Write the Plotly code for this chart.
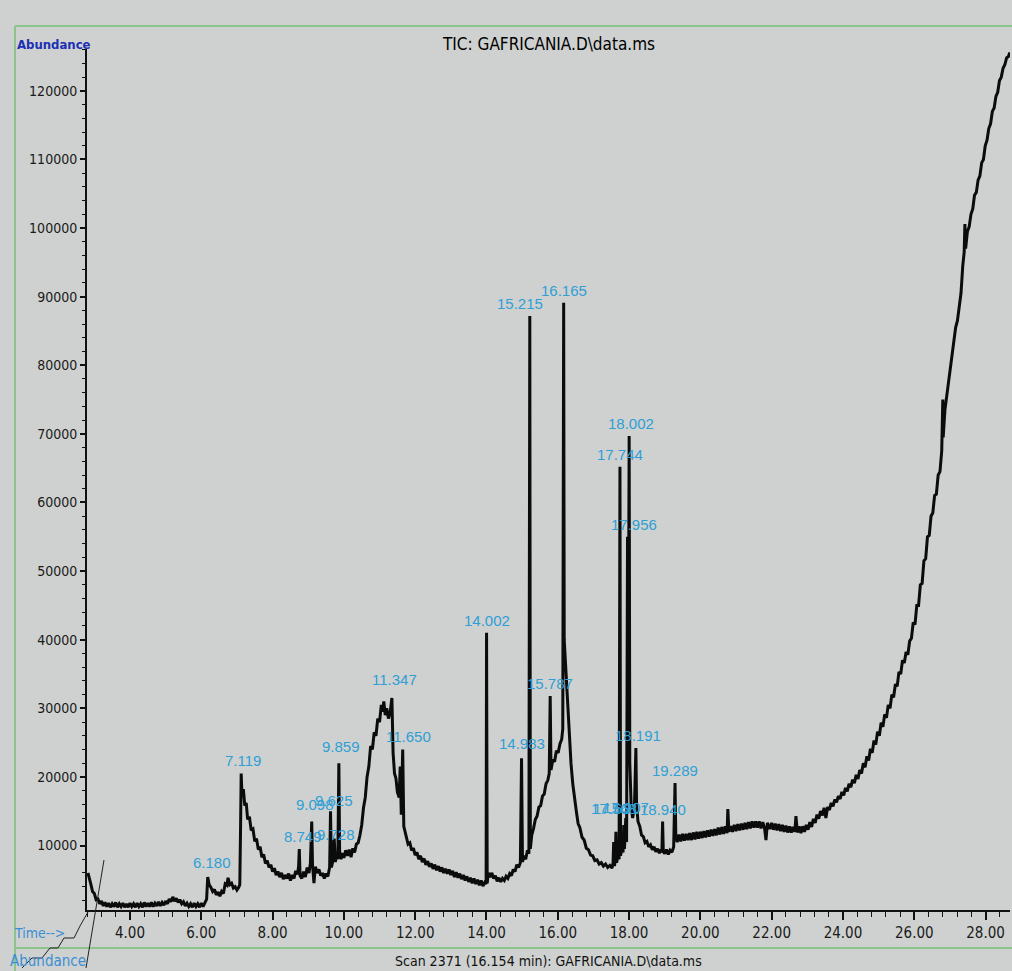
import plotly.graph_objects as go

# ---- chromatogram trace: (retention time [min], abundance) ----
early_baseline = [
    (2.82, 6000), (2.86, 5000), (2.90, 4400), (2.95, 3300), (3.00, 3000), (3.05, 2100), (3.10, 2200),
    (3.15, 1500), (3.20, 1900), (3.25, 1200), (3.30, 1700), (3.35, 1100), (3.40, 1600), (3.45, 1000),
    (3.50, 1500), (3.55, 1100), (3.60, 1700), (3.65, 1000), (3.70, 1500), (3.75, 1100), (3.80, 1600),
    (3.85, 1000), (3.90, 1500), (3.95, 1000), (4.00, 1600), (4.05, 1100), (4.10, 1500), (4.15, 1000),
    (4.20, 1600), (4.25, 1100), (4.30, 1500), (4.35, 1000), (4.40, 1700), (4.45, 1100), (4.50, 1600),
    (4.55, 1100), (4.60, 1700), (4.65, 1100), (4.70, 1600), (4.75, 1200), (4.80, 1800), (4.85, 1200),
    (4.90, 1700), (4.95, 1300), (5.00, 1900), (5.05, 1500), (5.10, 2200), (5.15, 1800), (5.20, 2500),
    (5.25, 1900), (5.30, 2300), (5.35, 1700), (5.40, 2100), (5.45, 1500), (5.50, 1800), (5.55, 1200),
    (5.60, 1600), (5.65, 1100), (5.70, 1500), (5.75, 1000), (5.80, 1600), (5.85, 1100), (5.90, 1500),
    (5.95, 1000), (6.00, 1600), (6.05, 1100), (6.10, 1700), (6.15, 2200),
]
region_6_to_10 = [
    (6.180, 5400), (6.22, 4300), (6.27, 3900), (6.32, 3300), (6.37, 3600), (6.42, 2800), (6.47, 3200),
    (6.52, 2600), (6.57, 3300), (6.62, 3000), (6.67, 4400), (6.72, 4200), (6.75, 5300), (6.80, 4300),
    (6.85, 4500), (6.90, 3800), (6.95, 4000), (7.00, 3500), (7.05, 3900), (7.08, 4300), (7.10, 12000),
    (7.119, 20500), (7.14, 17500), (7.18, 18200), (7.22, 15800), (7.26, 16200), (7.30, 13800),
    (7.35, 14200), (7.40, 12200), (7.45, 12400), (7.50, 10600), (7.55, 11000), (7.60, 9400),
    (7.65, 9800), (7.70, 8300), (7.75, 8700), (7.80, 7400), (7.85, 7800), (7.90, 6800), (7.95, 7200),
    (8.00, 6200), (8.05, 6700), (8.10, 5700), (8.15, 6200), (8.20, 5400), (8.25, 6000), (8.30, 5100),
    (8.35, 5700), (8.40, 5200), (8.45, 5900), (8.50, 4900), (8.55, 5700), (8.60, 5200), (8.65, 6300),
    (8.70, 5800), (8.73, 7000), (8.749, 9500), (8.77, 5600), (8.82, 5200), (8.87, 6200), (8.92, 5400),
    (8.97, 6800), (9.02, 6000), (9.06, 7400), (9.098, 13500), (9.12, 7200), (9.16, 4500), (9.20, 6900),
    (9.25, 6000), (9.30, 6500), (9.35, 5600), (9.40, 6000), (9.45, 5200), (9.50, 5900), (9.55, 5500),
    (9.60, 6800), (9.625, 15000), (9.65, 6800), (9.70, 8000), (9.728, 11000), (9.76, 7600),
    (9.80, 8600), (9.83, 8000), (9.859, 22000), (9.88, 9200), (9.92, 8000), (9.96, 8900),
    (10.00, 8200), (10.05, 9300), (10.10, 8500), (10.15, 9400), (10.20, 8300), (10.25, 9600),
    (10.30, 9000), (10.35, 10200), (10.40, 10400),
]
hump_11 = [
    (10.45, 11500), (10.50, 13000), (10.55, 15500), (10.60, 17000), (10.65, 20000), (10.70, 21500),
    (10.75, 24500), (10.80, 24000), (10.85, 26500), (10.90, 26000), (10.95, 28500), (11.00, 28000),
    (11.05, 30500), (11.08, 29500), (11.12, 31000), (11.16, 29000), (11.20, 30000), (11.25, 28500),
    (11.30, 29500), (11.347, 31500), (11.38, 23500), (11.42, 20500), (11.46, 19800), (11.50, 17800),
    (11.55, 17000), (11.58, 21500), (11.61, 14500), (11.650, 24000), (11.68, 12800), (11.72, 11800),
    (11.76, 11200), (11.80, 10200), (11.85, 10400), (11.90, 9300), (11.95, 9600), (12.00, 8600),
]
region_12_to_15 = [
    (12.05, 9000), (12.10, 8000), (12.15, 8500), (12.20, 7600), (12.25, 8100), (12.30, 7200),
    (12.35, 7700), (12.40, 6900), (12.45, 7400), (12.50, 6600), (12.55, 7200), (12.60, 6400),
    (12.65, 7000), (12.70, 6200), (12.75, 6800), (12.80, 6000), (12.85, 6600), (12.90, 5900),
    (12.95, 6500), (13.00, 5700), (13.05, 6300), (13.10, 5400), (13.15, 6100), (13.20, 5300),
    (13.25, 5900), (13.30, 5100), (13.35, 5700), (13.40, 4900), (13.45, 5500), (13.50, 4700),
    (13.55, 5300), (13.60, 4500), (13.65, 5200), (13.70, 4400), (13.75, 5000), (13.80, 4200),
    (13.85, 4900), (13.90, 4100), (13.95, 4600), (13.99, 4400), (14.002, 41000), (14.02, 4500),
    (14.05, 6000), (14.10, 5400), (14.15, 6000), (14.20, 5200), (14.25, 5600), (14.30, 4800),
    (14.35, 5300), (14.40, 4700), (14.45, 5200), (14.50, 4900), (14.55, 5500), (14.60, 5200),
    (14.65, 5900), (14.70, 5600), (14.75, 6500), (14.80, 6200), (14.85, 7200), (14.90, 6800),
    (14.95, 7500), (14.983, 22700), (15.01, 7600), (15.05, 8500), (15.10, 8000), (15.15, 9300),
    (15.19, 8800),
]
region_15_to_17 = [
    (15.215, 87200), (15.23, 9500), (15.27, 11500), (15.32, 12500), (15.37, 13800), (15.42, 14300),
    (15.47, 15600), (15.52, 15800), (15.57, 17200), (15.62, 17500), (15.67, 19000), (15.72, 19500),
    (15.76, 20500), (15.787, 31800), (15.81, 21000), (15.86, 22500), (15.91, 22200), (15.96, 23800),
    (16.01, 23500), (16.06, 24800), (16.11, 25500), (16.14, 27000), (16.165, 89100), (16.18, 40000),
    (16.22, 36000), (16.27, 30000), (16.32, 26000), (16.37, 22000), (16.42, 19000), (16.47, 16500),
    (16.52, 15000), (16.57, 13200), (16.62, 12600), (16.68, 11200), (16.74, 10800), (16.80, 9600),
    (16.86, 9400), (16.92, 8600), (16.98, 8500), (17.04, 7800), (17.10, 7900), (17.16, 7300),
    (17.22, 7500), (17.28, 7000), (17.34, 7300), (17.40, 6800), (17.46, 7100), (17.52, 6700),
]
region_17_to_19 = [
    (17.55, 7400), (17.568, 10500), (17.59, 7000), (17.61, 7800), (17.631, 12000), (17.65, 7500),
    (17.69, 8500), (17.72, 8000), (17.744, 65200), (17.76, 8500), (17.80, 9500), (17.83, 9000),
    (17.85, 13000), (17.87, 9500), (17.907, 14000), (17.93, 10500), (17.956, 55000), (17.975, 28000),
    (18.002, 69700), (18.02, 22000), (18.06, 15500), (18.10, 14000), (18.15, 15500), (18.191, 24200),
    (18.21, 16000), (18.25, 13500), (18.30, 12800), (18.35, 11500), (18.40, 11300), (18.45, 10400),
    (18.50, 10600), (18.55, 9800), (18.60, 10100), (18.65, 9400), (18.70, 9800), (18.75, 9100),
    (18.80, 9500), (18.85, 8900), (18.90, 9400), (18.92, 9000), (18.940, 13500), (18.96, 9100),
    (19.00, 8800), (19.05, 9400), (19.10, 8700), (19.15, 9300), (19.20, 9000), (19.25, 9800),
    (19.289, 19100), (19.31, 11500),
]
late_rise = [
    (19.35, 10500), (19.40, 11600), (19.45, 10600), (19.50, 11700), (19.55, 10700), (19.60, 11700),
    (19.65, 10800), (19.70, 11800), (19.75, 10800), (19.80, 11900), (19.85, 10900), (19.90, 12000),
    (19.95, 11000), (20.00, 12000), (20.05, 11100), (20.10, 12100), (20.15, 11200), (20.20, 12200),
    (20.25, 11300), (20.30, 12300), (20.35, 11400), (20.40, 12400), (20.45, 11500), (20.50, 12600),
    (20.55, 11600), (20.60, 12700), (20.65, 11700), (20.70, 12800), (20.75, 11800), (20.77, 15300),
    (20.80, 12000), (20.85, 12800), (20.90, 12000), (20.95, 13000), (21.00, 12100), (21.05, 13100),
    (21.10, 12200), (21.15, 13200), (21.20, 12300), (21.25, 13300), (21.30, 12400), (21.35, 13400),
    (21.40, 12500), (21.45, 13500), (21.50, 12600), (21.55, 13500), (21.60, 12600), (21.65, 13500),
    (21.70, 12500), (21.75, 13400), (21.80, 12500), (21.84, 10800), (21.88, 13300), (21.95, 12400),
    (22.00, 13300), (22.05, 12300), (22.10, 13200), (22.15, 12200), (22.20, 13100), (22.25, 12100),
    (22.30, 13000), (22.35, 12000), (22.40, 12900), (22.45, 11900), (22.50, 12800), (22.55, 11900),
    (22.60, 12700), (22.65, 12000), (22.68, 14300), (22.72, 11900), (22.77, 12800), (22.82, 11800),
    (22.87, 12800), (22.92, 12000), (22.97, 13000), (23.02, 12300), (23.07, 13400), (23.12, 12700),
    (23.17, 13900), (23.22, 13300), (23.27, 14500), (23.32, 13900), (23.37, 15000), (23.42, 14400),
    (23.47, 15500), (23.52, 14000), (23.57, 15600), (23.62, 15200), (23.67, 16200), (23.72, 15700),
    (23.77, 16700), (23.82, 16300), (23.87, 17200), (23.92, 16800), (23.97, 17800), (24.02, 17300),
    (24.07, 18400), (24.12, 17900), (24.17, 19000), (24.22, 18500), (24.27, 19600), (24.32, 19100),
    (24.37, 20300), (24.42, 19700), (24.47, 21000), (24.52, 20500), (24.57, 22000), (24.62, 21400),
    (24.67, 23000), (24.72, 22400), (24.77, 24100), (24.82, 23500), (24.87, 25300), (24.92, 24700),
    (24.97, 26600), (25.02, 26000), (25.07, 27900), (25.12, 27300), (25.17, 29100), (25.22, 28600),
    (25.27, 30500), (25.32, 30000), (25.37, 32000), (25.42, 31600), (25.47, 33500), (25.52, 33200),
    (25.57, 35300), (25.62, 35000), (25.67, 37000), (25.72, 36600), (25.77, 38200), (25.82, 37800),
    (25.87, 39800), (25.92, 40200), (25.97, 42500), (26.02, 42200), (26.07, 45000), (26.12, 45000),
    (26.17, 48000), (26.22, 48200), (26.27, 51500), (26.32, 51800), (26.37, 55000), (26.42, 55200),
    (26.47, 58000), (26.52, 58500), (26.57, 61000), (26.62, 61200), (26.67, 64000), (26.72, 64500),
    (26.77, 67500), (26.80, 75000), (26.81, 69500), (26.86, 73500), (26.91, 75500), (26.96, 77500),
    (27.01, 79000), (27.06, 81500), (27.11, 83000), (27.16, 85500), (27.21, 86500), (27.26, 89000),
    (27.31, 90500), (27.36, 94500), (27.40, 96500), (27.42, 100600), (27.44, 97000), (27.49, 99500),
    (27.54, 100200), (27.59, 102000), (27.64, 102800), (27.69, 104800), (27.74, 105200), (27.79, 107000),
    (27.84, 107600), (27.89, 109500), (27.94, 110000), (27.99, 112000), (28.04, 112800), (28.09, 114500),
    (28.14, 115200), (28.19, 117000), (28.24, 117500), (28.29, 119200), (28.34, 119800), (28.39, 121500),
    (28.44, 122000), (28.49, 123300), (28.54, 123800), (28.59, 124800), (28.64, 125000), (28.68, 125600),
]
segments = [early_baseline, region_6_to_10, hump_11, region_12_to_15,
            region_15_to_17, region_17_to_19, late_rise]
time_min = [t for seg in segments for t, _ in seg]
abundance = [a for seg in segments for _, a in seg]

# ---- labelled peaks ----
peak_labels = ["6.180", "7.119", "8.749", "9.098", "9.625", "9.728", "9.859", "11.347", "11.650",
               "14.002", "14.983", "15.215", "15.787", "16.165", "17.568", "17.631", "17.907",
               "17.744", "18.002", "17.956", "18.191", "18.940", "19.289"]
peak_times = [6.180, 7.119, 8.749, 9.098, 9.625, 9.728, 9.859, 11.347, 11.650,
              14.002, 14.983, 15.215, 15.787, 16.165, 17.568, 17.631, 17.907,
              17.744, 18.002, 17.956, 18.191, 18.940, 19.289]
peak_heights = [5400, 20500, 9500, 13500, 15000, 11000, 22000, 31500, 24000,
                41000, 22700, 87200, 31800, 89100, 10500, 12000, 14000,
                65200, 69700, 55000, 24200, 13500, 19100]
label_dx = [4, 2, 4, 3, 3, 2, 2, 3, 6, 0, 0, -10, 0, 0, 0, 0, 0, 0, 2, 6, 2, 0, 0]
label_dy = [4, 2, 2, 7, 0, -6, 6, 8, 2, 2, 4, 2, 2, 2, 23, 13, 0, 2, 2, 2, 2, 2, 2]

LABEL_BLUE = "#2f9fd6"
COND = "DejaVu Sans Condensed, Liberation Sans, Arial, sans-serif"
BG = "#ced1cf"

fig = go.Figure()
fig.add_trace(go.Scatter(
    x=time_min, y=abundance, mode="lines",
    line=dict(color="#0b0b0b", width=3),
    hoverinfo="x+y", showlegend=False,
))

for t, h, txt, dx, dy in zip(peak_times, peak_heights, peak_labels, label_dx, label_dy):
    fig.add_annotation(x=t, y=h, text=txt, showarrow=False, xanchor="center", yanchor="bottom",
                       xshift=dx, yshift=dy,
                       font=dict(family="Liberation Sans, Arial, sans-serif", size=15, color=LABEL_BLUE))

# plot area in page pixels: x 87..1010, y 49..910 ; helpers to place page texts/shapes
W0, W1, H0, H1 = 87, 1010, 49, 910
def px(x):
    return (x - W0) / (W1 - W0)
def py(y):
    return (H1 - y) / (H1 - H0)

texts = [
    dict(x=px(15), y=py(44), text="<b>Abundance</b>", xanchor="left",
         font=dict(family=COND, size=13, color="#1d2fb4")),
    dict(x=px(548), y=py(44), text="TIC: GAFRICANIA.D\\data.ms", xanchor="center",
         font=dict(family=COND, size=17, color="#000000")),
    dict(x=px(12), y=py(933), text="Time--&gt;", xanchor="left",
         font=dict(family=COND, size=14, color="#3a8fd4")),
    dict(x=px(8), y=py(961), text="Abundance", xanchor="left",
         font=dict(family=COND, size=15, color="#3a8fd4")),
    dict(x=px(548), y=py(961), text="Scan 2371 (16.154 min): GAFRICANIA.D\\data.ms", xanchor="center",
         font=dict(family=COND, size=14, color="#111111")),
]
for t in texts:
    fig.add_annotation(xref="paper", yref="paper", showarrow=False, yanchor="middle", **t)

# green frame lines of the screen window
GREEN = "#8cc48c"
for x0, y0, x1, y1 in [(15, 26, 1012, 26), (15, 26, 15, 971), (15, 948, 1012, 948)]:
    fig.add_shape(type="line", xref="paper", yref="paper", x0=px(x0), x1=px(x1), y0=py(y0), y1=py(y1),
                  line=dict(color=GREEN, width=2))

# small axis icon in the bottom-left corner
icon = [(22, 968), (32, 958), (42, 958), (50, 948), (58, 948), (64, 938), (74, 938), (80, 926), (88, 912)]
path = "M " + " L ".join(f"{px(a):.5f},{py(b):.5f}" for a, b in icon)
fig.add_shape(type="path", xref="paper", yref="paper", path=path, line=dict(color="#222222", width=1))
fig.add_shape(type="line", xref="paper", yref="paper", x0=px(86), y0=py(968), x1=px(104), y1=py(860),
              line=dict(color="#222222", width=1))

fig.update_xaxes(
    range=[2.794, 28.685], showgrid=False, zeroline=False,
    showline=True, linecolor="#111111", linewidth=2,
    ticks="outside", ticklen=8, tickwidth=1.5, tickcolor="#111111",
    tick0=0, dtick=2, tickformat=".2f",
    minor=dict(ticks="outside", ticklen=5, tickwidth=1.2, tickcolor="#111111", tick0=0, dtick=0.4, showgrid=False),
    tickfont=dict(family=COND, size=15, color="#1a1a1a"),
)
fig.update_yaxes(
    range=[600, 126100], showgrid=False, zeroline=False,
    showline=True, linecolor="#111111", linewidth=2,
    ticks="outside", ticklen=5, tickwidth=1.5, tickcolor="#111111",
    tick0=0, dtick=10000, tickformat="d",
    minor=dict(ticks="outside", ticklen=3, tickwidth=1.2, tickcolor="#111111", tick0=0, dtick=2000, showgrid=False),
    tickfont=dict(family=COND, size=14, color="#1a1a1a"),
)
fig.update_layout(
    width=1012, height=971,
    margin=dict(l=W0, r=1012 - W1, t=H0, b=971 - H1),
    paper_bgcolor=BG, plot_bgcolor=BG,
    showlegend=False,
)

fig.write_html(
    "out.html",
    config={"displayModeBar": False},
    post_script="document.body.style.margin='0';document.body.style.overflow='hidden';"
                "document.body.style.background='" + BG + "';",
)
